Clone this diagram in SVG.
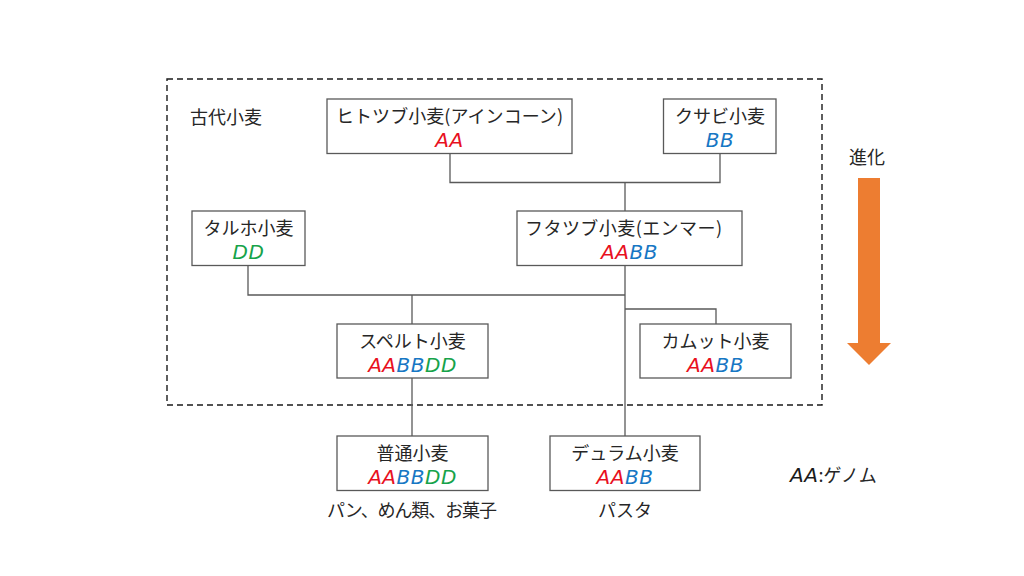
<svg xmlns="http://www.w3.org/2000/svg" width="1024" height="576" viewBox="0 0 1024 576">
<style>
.box{fill:#fff;stroke:#595959;stroke-width:1.3}
.ln{fill:none;stroke:#595959;stroke-width:1.3}
.jp{font-family:"Noto Sans CJK JP","Noto Sans",sans-serif;font-size:18px;fill:#262626}
.g{font-family:"DejaVu Sans",sans-serif;font-style:italic;font-size:20px;letter-spacing:0.5px}
.r{fill:#E8101E}.b{fill:#1777C4}.gr{fill:#16A34A}
</style>
<rect width="1024" height="576" fill="#fff"/>
<rect x="167" y="79" width="655" height="326" fill="none" stroke="#1a1a1a" stroke-width="1.4" stroke-dasharray="6,4"/>
<text class="jp" x="190" y="124">古代小麦</text>
<g id="connectors">
<polyline class="ln" points="450,153.7 450,182.5 720,182.5 720,153.7"/>
<line class="ln" x1="625" y1="182.5" x2="625" y2="211"/>
<line class="ln" x1="625" y1="266" x2="625" y2="436"/>
<polyline class="ln" points="248,265 248,295 625,295"/>
<line class="ln" x1="412" y1="295" x2="412" y2="324"/>
<line class="ln" x1="412" y1="378" x2="412" y2="436"/>
<polyline class="ln" points="625,309 716,309 716,324"/>
</g>
<g id="hitotsubu">
<rect class="box" x="327" y="99" width="245" height="54.5"/>
<text class="jp" x="336" y="123" textLength="227" lengthAdjust="spacing">ヒトツブ小麦(アインコーン)</text>
<text class="g" x="449.5" y="147" text-anchor="middle"><tspan class="r">AA</tspan></text>
</g>
<g id="kusabi">
<rect class="box" x="663.5" y="99" width="112.5" height="54.5"/>
<text class="jp" x="720" y="123" text-anchor="middle">クサビ小麦</text>
<text class="g" x="720" y="147" text-anchor="middle"><tspan class="b">BB</tspan></text>
</g>
<g id="taruho">
<rect class="box" x="192" y="211" width="113" height="54.5"/>
<text class="jp" x="248.5" y="235" text-anchor="middle">タルホ小麦</text>
<text class="g" x="248.5" y="259" text-anchor="middle"><tspan class="gr">DD</tspan></text>
</g>
<g id="futatsubu">
<rect class="box" x="517" y="211" width="225" height="54.5"/>
<text class="jp" x="525" y="235" textLength="197" lengthAdjust="spacing">フタツブ小麦(エンマー)</text>
<text class="g" x="629.5" y="259" text-anchor="middle"><tspan class="r">AA</tspan><tspan class="b">BB</tspan></text>
</g>
<g id="spelt">
<rect class="box" x="337" y="324" width="151" height="54"/>
<text class="jp" x="412.5" y="348" text-anchor="middle">スペルト小麦</text>
<text class="g" x="412.5" y="372" text-anchor="middle"><tspan class="r">AA</tspan><tspan class="b">BB</tspan><tspan class="gr">DD</tspan></text>
</g>
<g id="kamut">
<rect class="box" x="640" y="324" width="151" height="54"/>
<text class="jp" x="715.5" y="348" text-anchor="middle">カムット小麦</text>
<text class="g" x="715.5" y="372" text-anchor="middle"><tspan class="r">AA</tspan><tspan class="b">BB</tspan></text>
</g>
<g id="futsuu">
<rect class="box" x="337" y="436" width="151" height="54.5"/>
<text class="jp" x="412.5" y="460" text-anchor="middle">普通小麦</text>
<text class="g" x="412.5" y="484" text-anchor="middle"><tspan class="r">AA</tspan><tspan class="b">BB</tspan><tspan class="gr">DD</tspan></text>
<text class="jp" x="327" y="517" textLength="170" lengthAdjust="spacing">パン、めん類、お菓子</text>
</g>
<g id="durum">
<rect class="box" x="550" y="436" width="150" height="54.5"/>
<text class="jp" x="625" y="460" text-anchor="middle">デュラム小麦</text>
<text class="g" x="625" y="484" text-anchor="middle"><tspan class="r">AA</tspan><tspan class="b">BB</tspan></text>
<text class="jp" x="625" y="517" text-anchor="middle">パスタ</text>
</g>
<g id="evolution">
<text class="jp" x="867" y="164" text-anchor="middle">進化</text>
<polygon points="858,178 880,178 880,343 891,343 869,365 847,343 858,343" fill="#ED7D31"/>
</g>
<g id="legend">
<text x="790" y="482"><tspan class="g" fill="#1a1a1a">AA</tspan><tspan class="jp">:ゲノム</tspan></text>
</g>
</svg>
